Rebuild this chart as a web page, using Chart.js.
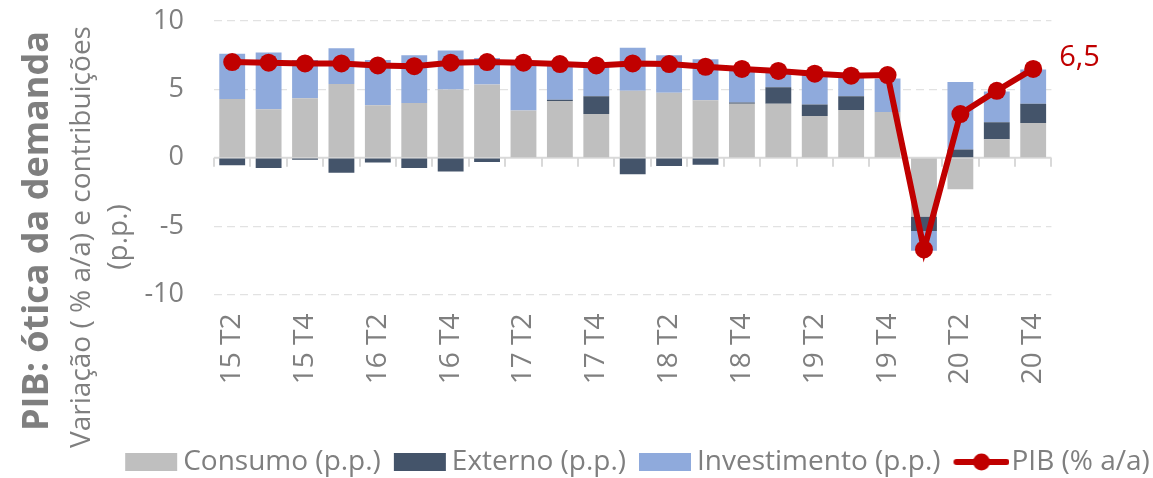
<!DOCTYPE html>
<html lang="pt">
<head>
<meta charset="utf-8">
<title>PIB: ótica da demanda</title>
<script src="https://cdn.jsdelivr.net/npm/chart.js@4.4.1/dist/chart.umd.min.js"></script>
<style>
  html, body { margin: 0; padding: 0; background: #ffffff; }
  #wrap { width: 1153px; height: 478px; position: relative; }
</style>
</head>
<body>
<div id="wrap"><canvas id="chart" width="1153" height="478"></canvas></div>
<script>
// Trimestres (eixo das categorias)
const categories = ['15 T2','15 T3','15 T4','16 T1','16 T2','16 T3','16 T4','17 T1','17 T2','17 T3','17 T4',
                    '18 T1','18 T2','18 T3','18 T4','19 T1','19 T2','19 T3','19 T4','20 T1','20 T2','20 T3','20 T4'];

// Contribuições para o crescimento (p.p.)
const consumo      = [4.3, 3.55, 4.35, 5.4, 3.85, 4.0, 5.0, 5.35, 3.45, 4.15, 3.2, 4.9, 4.75, 4.2, 3.95, 3.95, 3.05, 3.5, 3.35, -4.3, -2.3, 1.35, 2.55];
const externo      = [-0.55, -0.75, -0.15, -1.1, -0.35, -0.75, -1.0, -0.3, 0.0, 0.1, 1.3, -1.2, -0.6, -0.5, 0.1, 1.2, 0.85, 1.0, 0.0, -1.05, 0.6, 1.25, 1.4];
const investimento = [3.3, 4.15, 2.8, 2.6, 3.3, 3.5, 2.85, 1.95, 3.55, 2.6, 2.3, 3.15, 2.75, 3.0, 2.45, 1.2, 2.25, 1.5, 2.45, -1.45, 4.95, 2.25, 2.5];

// Variação do PIB (% a/a)
const pib          = [7.0, 6.95, 6.9, 6.9, 6.75, 6.7, 6.95, 7.0, 6.95, 6.85, 6.75, 6.9, 6.85, 6.65, 6.5, 6.35, 6.15, 6.0, 6.05, -6.7, 3.2, 4.9, 6.5];

// Escala vertical
const yMin = -10, yMax = 10, yStep = 5;

const TEXT = '#7f7f7f';
const COLORS = { consumo: '#bfbfbf', externo: '#44546a', investimento: '#8faadc', pib: '#c00000' };
const FONT = '"Open Sans", "DejaVu Sans", sans-serif';

// Legend swatches: a filled box for the bars, a line with a dot for the PIB series
function boxSwatch(color) {
  const c = document.createElement('canvas');
  c.width = 68; c.height = 18;
  const g = c.getContext('2d');
  g.fillStyle = color;
  g.fillRect(12, 0, 52, 18);
  return c;
}
function lineSwatch(color) {
  const c = document.createElement('canvas');
  c.width = 68; c.height = 20;
  const g = c.getContext('2d');
  g.strokeStyle = color; g.lineWidth = 6; g.lineCap = 'round';
  g.beginPath(); g.moveTo(15, 10); g.lineTo(65, 10); g.stroke();
  g.fillStyle = color;
  g.beginPath(); g.arc(40, 10, 8.5, 0, Math.PI * 2); g.fill();
  return c;
}
const swatches = [boxSwatch(COLORS.consumo), boxSwatch(COLORS.externo), boxSwatch(COLORS.investimento), lineSwatch(COLORS.pib)];

const fmtPt = v => v.toFixed(1).replace('.', ',');

// Axis line at zero with category tick marks, the value tag at the last point and the vertical titles
const decor = {
  id: 'decor',
  beforeDatasetsDraw(chart) {
    const { ctx, chartArea, scales: { x, y } } = chart;
    const y0 = y.getPixelForValue(0);
    const step = x.getPixelForValue(1) - x.getPixelForValue(0);
    ctx.save();
    ctx.strokeStyle = '#d9d9d9';
    ctx.lineWidth = 2;
    ctx.beginPath();
    ctx.moveTo(chartArea.left, y0);
    ctx.lineTo(chartArea.right, y0);
    for (let i = 0; i <= categories.length; i++) {
      const xb = Math.round(x.getPixelForValue(i) - step / 2);
      ctx.moveTo(xb, y0);
      ctx.lineTo(xb, y0 + 9);
    }
    ctx.stroke();
    ctx.restore();
  },
  afterDatasetsDraw(chart) {
    const { ctx } = chart;
    const meta = chart.getDatasetMeta(3);
    const last = pib.length - 1;
    const pt = meta.data[last];
    ctx.save();
    ctx.fillStyle = COLORS.pib;
    ctx.font = '29px ' + FONT;
    ctx.textAlign = 'left';
    ctx.textBaseline = 'alphabetic';
    ctx.fillText(fmtPt(pib[last]), pt.x + 26, pt.y - 2.5);
    ctx.restore();
  },
  afterDraw(chart) {
    const { ctx } = chart;
    const vText = (t, font, x, y) => {
      ctx.save();
      ctx.translate(x, y);
      ctx.rotate(-Math.PI / 2);
      ctx.font = font;
      ctx.fillStyle = TEXT;
      ctx.textAlign = 'center';
      ctx.textBaseline = 'alphabetic';
      ctx.fillText(t, 0, 0);
      ctx.restore();
    };
    vText('PIB: ótica da demanda', 'bold 36px ' + FONT, 48, 231);
    vText('Variação ( % a/a) e contribuições', '28px ' + FONT, 90, 237);
    vText('(p.p.)', '28px ' + FONT, 127, 237);
  }
};

new Chart(document.getElementById('chart'), {
  type: 'bar',
  data: {
    labels: categories,
    datasets: [
      { label: 'Consumo (p.p.)', data: consumo, backgroundColor: COLORS.consumo, stack: 'dem', order: 1 },
      { label: 'Externo (p.p.)', data: externo, backgroundColor: COLORS.externo, stack: 'dem', order: 1 },
      { label: 'Investimento (p.p.)', data: investimento, backgroundColor: COLORS.investimento, stack: 'dem', order: 1 },
      {
        label: 'PIB (% a/a)', type: 'line', data: pib, stack: 'pib', order: 0,
        borderColor: COLORS.pib, backgroundColor: COLORS.pib, borderWidth: 6,
        pointRadius: 9, pointHoverRadius: 9, pointBackgroundColor: COLORS.pib, pointBorderWidth: 0,
        tension: 0, fill: false
      }
    ]
  },
  options: {
    responsive: false,
    devicePixelRatio: 1,
    animation: false,
    layout: { padding: { left: 110, top: 21, right: -12, bottom: -8 } },
    datasets: { bar: { barPercentage: 0.71, categoryPercentage: 1.0 } },
    scales: {
      x: {
        stacked: true,
        offset: true,
        grid: { display: false },
        border: { display: false },
        ticks: {
          autoSkip: false, minRotation: 90, maxRotation: 90, padding: 11,
          color: TEXT, font: { family: FONT, size: 28 },
          callback: (v, i) => (i % 2 === 0 ? categories[i] : '')
        },
        afterFit: s => { s.height = 140.4; }
      },
      y: {
        stacked: true,
        min: yMin, max: yMax,
        ticks: { stepSize: yStep, padding: 4, color: TEXT, font: { family: FONT, size: 27 } },
        grid: {
          drawTicks: true,
          tickLength: 26,
          tickColor: 'rgba(0,0,0,0)',
          lineWidth: 1.3,
          color: c => (c.tick && c.tick.value === 0 ? 'rgba(0,0,0,0)' : '#e2e2e2')
        },
        border: { display: false, dash: [8, 5] },
        afterFit: s => { s.width = 104; }
      },
      yRight: {
        type: 'linear', position: 'right', display: true,
        grid: { display: false }, border: { display: false }, ticks: { display: false },
        afterFit: s => { s.width = 113.6; }
      }
    },
    plugins: {
      tooltip: { enabled: false },
      title: { display: false },
      legend: {
        position: 'bottom',
        align: 'center',
        labels: {
          usePointStyle: true,
          pointStyleWidth: 44,
          padding: 13,
          color: TEXT,
          font: { family: FONT, size: 28 },
          sort: (a, b) => a.datasetIndex - b.datasetIndex,
          generateLabels(chart) {
            const items = Chart.defaults.plugins.legend.labels.generateLabels(chart);
            items.forEach(it => { it.pointStyle = swatches[it.datasetIndex]; });
            return items;
          }
        }
      }
    }
  },
  plugins: [decor]
});
</script>
</body>
</html>
